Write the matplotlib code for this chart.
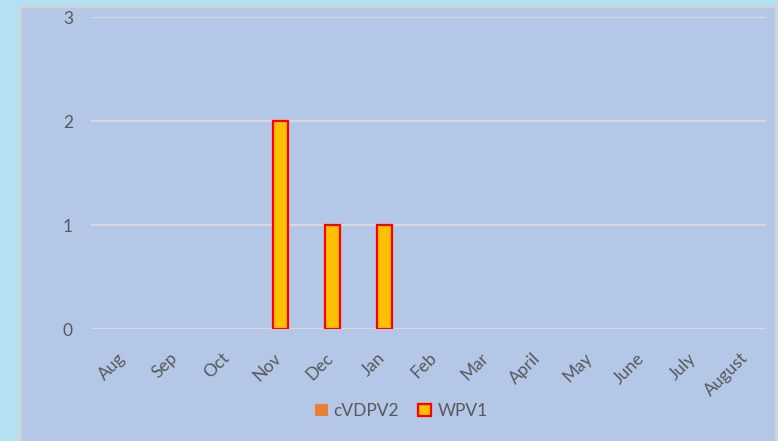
import matplotlib
matplotlib.use("Agg")
import matplotlib.pyplot as plt
from matplotlib.patches import Rectangle, Patch
import numpy as np

months = ["Aug", "Sep", "Oct", "Nov", "Dec", "Jan", "Feb", "Mar", "April",
          "May", "June", "July", "August"]
cvdpv2 = [0, 0, 0, 0, 0, 0, 0, 0, 0, 0, 0, 0, 0]
wpv1 = [0, 0, 0, 2, 1, 1, 0, 0, 0, 0, 0, 0, 0]
yticks = [0, 1, 2, 3]

plt.rcParams['font.family'] = ['Lato', 'DejaVu Sans']

fig = plt.figure(figsize=(7.78, 4.41), dpi=100)
fig.patch.set_facecolor('#b3e1f1')

# inner chart panel (background axes)
bg = fig.add_axes([0, 0, 1, 1], zorder=-10)
bg.set_xlim(0, 778)
bg.set_ylim(441, 0)
bg.axis('off')
bg.add_patch(Rectangle((20, 6), 756, 460, facecolor='#b4c7e7',
                       edgecolor='#d0d4da', linewidth=2))

ax = fig.add_axes([91/778, 1 - 329/441, (766-91)/778, (329-17)/441], zorder=1)
ax.patch.set_visible(False)

x = np.arange(len(months))
w = 0.29
ax.bar(x - w/2, cvdpv2, width=w, color='#ed7d31', zorder=3)
lws = [1.6 if v > 0 else 0 for v in wpv1]
ax.bar(x + w/2, wpv1, width=w, color='#ffc000', edgecolor='#ff0000',
       linewidth=lws, zorder=3)

ax.set_xlim(-0.5, len(months) - 0.5)
ax.set_ylim(0, 3)
ax.set_yticks(yticks)
ax.set_yticklabels([str(v) for v in yticks], fontsize=12.5, color='#595959')
ax.tick_params(axis='y', length=0, pad=13)
ax.grid(axis='y', color='#d9d9d9', linewidth=1.5, zorder=1)
ax.set_axisbelow(True)
for s in ax.spines.values():
    s.set_visible(False)

ax.set_xticks(x)
ax.set_xticklabels(months, fontsize=12.5, color='#595959', rotation=45,
                   ha='right', va='top', rotation_mode='anchor')
ax.tick_params(axis='x', length=0, pad=15)

handles = [Patch(facecolor='#ed7d31', edgecolor='none'),
           Patch(facecolor='#ffc000', edgecolor='#ff0000', linewidth=1.6)]
leg = fig.legend(handles, ['cVDPV2', 'WPV1'], loc='center',
                 bbox_to_anchor=(401/778, 1 - 411/441), ncol=2, frameon=False,
                 fontsize=12.5, handlelength=0.75, handleheight=0.75,
                 handletextpad=0.35, columnspacing=1.1)
for t in leg.get_texts():
    t.set_color('#595959')

fig.savefig('out.png', dpi=100, facecolor=fig.get_facecolor())
